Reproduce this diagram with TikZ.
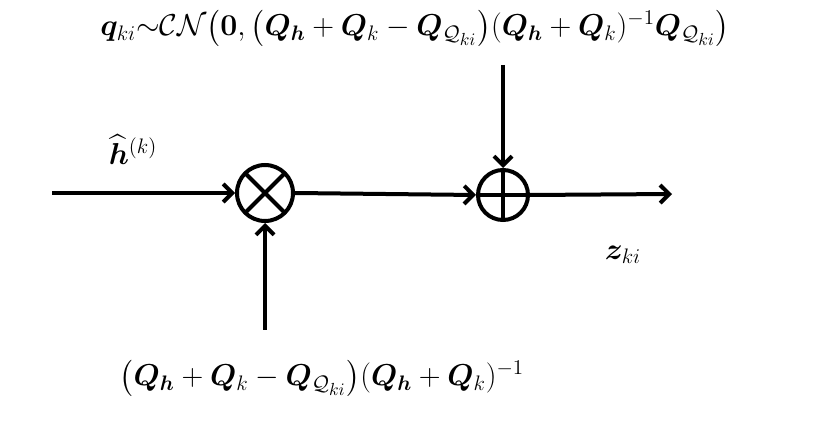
\documentclass[tikz,border=0pt]{standalone}
\usepackage{amsmath,bm}
\usetikzlibrary{arrows.meta,calc}
\begin{document}
\begin{tikzpicture}[x=1pt,y=-1pt,
  ln/.style={line width=4pt,-{Straight Barb[length=9pt,width=18pt,line width=4pt]}},
  op/.style={circle,draw,line width=4pt,minimum size=#1,inner sep=0pt},
  lbl/.style={font=\LARGE,scale=1.75,inner sep=1pt}]
\useasboundingbox (0,0) rectangle (831,422);
\node[op=56pt] (m) at (265,193) {};
\draw[line width=4pt] ($(m.center)+(-19,-19)$) -- ($(m.center)+(19,19)$) ($(m.center)+(-19,19)$) -- ($(m.center)+(19,-19)$);
\node[op=50pt] (p) at (503,195) {};
\draw[line width=4pt] (p.north) -- (p.south) (p.west) -- (p.east);
\coordinate (in) at (52,193);
\coordinate (top) at (503,65);
\coordinate (bot) at (265,330);
\coordinate (out) at (672,194);
\draw[ln] (in) -- (m.west);
\draw[ln] (m.east) -- (p.west);
\draw[ln] (top) -- (p.north);
\draw[ln] (bot) -- (m.south);
\draw[ln] (p.east) -- (out);
\node[lbl] (t1) at (415,28) {$\bm{q}_{ki}{\sim}\mathcal{CN}\big(\bm{0},\big(\bm{Q_h}+\bm{Q}_k-\bm{Q}_{\mathcal{Q}_{ki}}\big)(\bm{Q_h}+\bm{Q}_k)^{-1}\bm{Q}_{\mathcal{Q}_{ki}}\big)$};
\node[lbl] (t2) at (133,150) {$\widehat{\bm{h}}^{(k)}$};
\node[lbl] (t3) at (623,255) {$\bm{z}_{ki}$};
\node[lbl] (t4) at (322,378) {$\big(\bm{Q_h}+\bm{Q}_k-\bm{Q}_{\mathcal{Q}_{ki}}\big)(\bm{Q_h}+\bm{Q}_k)^{-1}$};
\end{tikzpicture}
\end{document}
